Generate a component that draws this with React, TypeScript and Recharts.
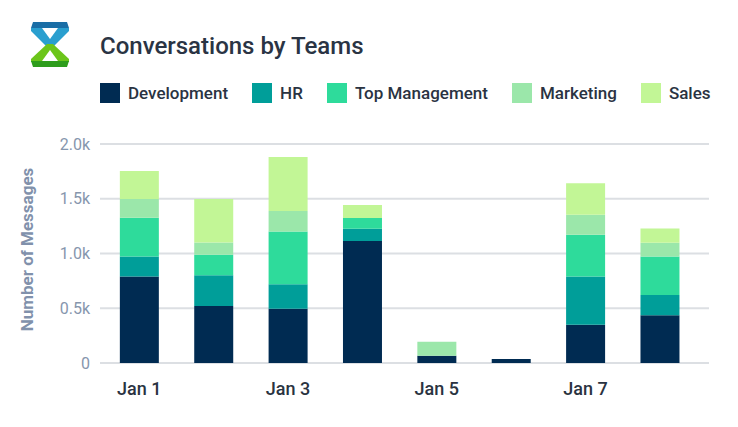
import { BarChart, Bar, XAxis, YAxis, CartesianGrid, Legend, Label } from 'recharts'

const days = ['Jan 1', 'Jan 2', 'Jan 3', 'Jan 4', 'Jan 5', 'Jan 6', 'Jan 7', 'Jan 8']
const development = [790, 520, 495, 1115, 67, 36, 350, 436]
const hr = [182, 282, 224, 110, 0, 0, 440, 186]
const topManagement = [354, 186, 483, 100, 0, 0, 381, 351]
const marketing = [171, 113, 186, 0, 128, 0, 183, 125]
const sales = [257, 396, 494, 117, 0, 0, 287, 131]
const yTicks = [0, 500, 1000, 1500, 2000]

const teams = [
  { key: 'development', name: 'Development', color: '#002b52' },
  { key: 'hr', name: 'HR', color: '#009e99' },
  { key: 'topManagement', name: 'Top Management', color: '#2edb9b' },
  { key: 'marketing', name: 'Marketing', color: '#9be7aa' },
  { key: 'sales', name: 'Sales', color: '#c2f696' },
]

const data = days.map((day, i) => ({
  day,
  development: development[i],
  hr: hr[i],
  topManagement: topManagement[i],
  marketing: marketing[i],
  sales: sales[i],
}))

const font = 'Roboto, sans-serif'

function fmtTick(v: number): string {
  return v === 0 ? '0' : `${(v / 1000).toFixed(1)}k`
}

function LegendRow() {
  return (
    <div style={{ display: 'flex', alignItems: 'center', fontFamily: font, height: 20 }}>
      {teams.map((t) => (
        <div key={t.key} style={{ display: 'flex', alignItems: 'center', marginRight: 24 }}>
          <span style={{ width: 20, height: 20, background: t.color, display: 'inline-block', marginRight: 8 }} />
          <span style={{ fontSize: 17, color: '#2a3342', fontWeight: 500 }}>{t.name}</span>
        </div>
      ))}
    </div>
  )
}

// hourglass-ish brand mark, blue on top, green below
function Logo() {
  return (
    <svg width={44} height={50} style={{ position: 'absolute', left: 28, top: 20 }} viewBox="28 20 44 50">
      <polygon points="31,28 69,28 69,31 53,47 47,47 31,31" fill="#2a9fcf" />
      <polygon points="42,28 58,28 50,39" fill="#ffffff" />
      <polygon points="33,22 67,22 69,28 31,28" fill="#1a6ea6" />
      <polygon points="47,44 53,44 69,59 69,62 31,62 31,59" fill="#6cc51a" />
      <polygon points="50,50 58,61 42,61" fill="#ffffff" />
      <polygon points="31,61 69,61 67,67 33,67" fill="#2e9d1c" />
    </svg>
  )
}

export default function App() {
  return (
    <div style={{ position: 'absolute', left: 0, top: 0, width: 738, height: 427, background: '#fff' }}>
      <Logo />
      <div
        style={{
          position: 'absolute',
          left: 100,
          top: 31,
          fontFamily: font,
          fontSize: 24,
          fontWeight: 500,
          color: '#2a3444',
          lineHeight: '30px',
        }}
      >
        Conversations by Teams
      </div>
      <BarChart
        width={738}
        height={427}
        data={data}
        margin={{ top: 124, right: 29, bottom: 24, left: 0 }}
        barCategoryGap="24%"
      >
        <CartesianGrid vertical={false} stroke="#dcdfe3" strokeWidth={2} />
        <Legend
          verticalAlign="top"
          height={20}
          content={() => <LegendRow />}
          wrapperStyle={{ top: 83, left: 100, width: 640 }}
        />
        <XAxis
          dataKey="day"
          interval={1}
          axisLine={false}
          tickLine={false}
          tickMargin={13}
          height={40}
          padding={{ left: 2, right: 12 }}
          tick={{ fill: '#2a3341', fontSize: 18, fontWeight: 500, fontFamily: font }}
        />
        <YAxis
          width={100}
          domain={[0, 2000]}
          ticks={yTicks}
          axisLine={false}
          tickLine={false}
          tickMargin={4}
          tickFormatter={fmtTick}
          tick={{ fill: '#8696ad', fontSize: 16, fontFamily: font }}
        >
          <Label
            value="Number of Messages"
            angle={-90}
            position="insideLeft"
            dx={22}
            dy={-4}
            style={{ fill: '#8191ab', fontSize: 17, fontWeight: 700, fontFamily: font, textAnchor: 'middle' }}
          />
        </YAxis>
        {teams.map((t) => (
          <Bar key={t.key} dataKey={t.key} name={t.name} stackId="a" fill={t.color} isAnimationActive={false} />
        ))}
      </BarChart>
    </div>
  )
}
